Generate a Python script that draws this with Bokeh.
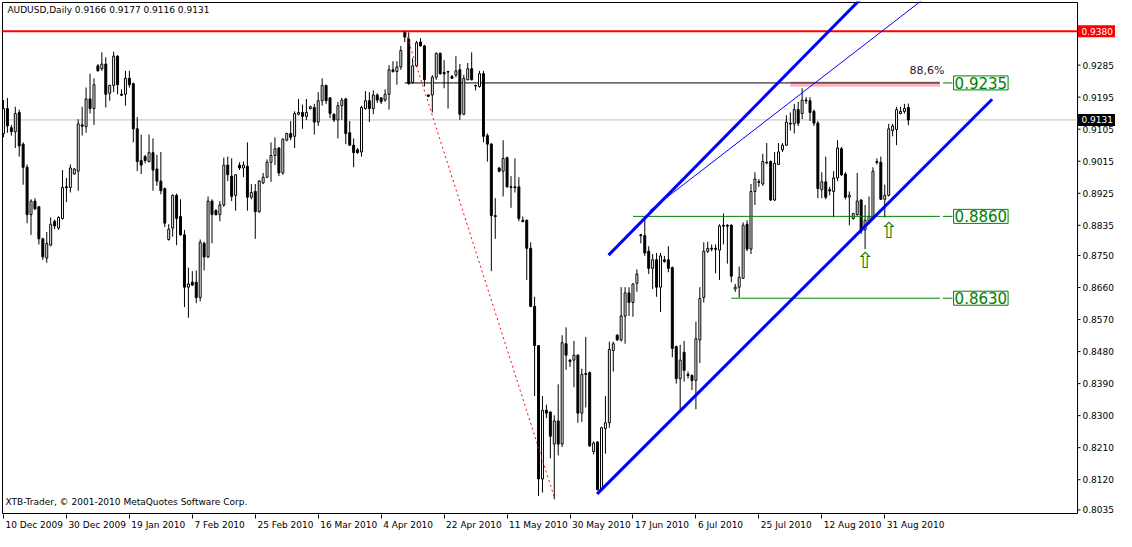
from bokeh.plotting import figure
from bokeh.models import Range1d, FixedTicker, Label
from bokeh.embed import file_html
from bokeh.resources import INLINE
from bokeh.core.properties import value

# ---------------- data (AUDUSD daily) ----------------
opens = [
    .9093, .9163, .9109, .9098, .9152, .9063, .8998, .8865, .8903, .8887,
    .8797, .8743, .8779, .8846, .8827, .8854, .8943, .8941, .8979, .8987,
    .9117, .9112, .9190, .9163, .9283, .9275, .9288, .9206, .9228, .9310,
    .9203, .9203, .9248, .9233, .9106, .9017, .9028, .9014, .9039, .8993,
    .8959, .8938, .8795, .8827, .8919, .8860, .8808, .8661, .8675, .8675,
    .8632, .8784, .8746, .8903, .8876, .8865, .8892, .9004, .8973, .8919,
    .9004, .8996, .9001, .8914, .8930, .8873, .8954, .8970, .9012, .9031,
    .9052, .8982, .9074, .9093, .9085, .9147, .9152, .9141, .9163, .9166,
    .9125, .9185, .9228, .9193, .9147, .9131, .9171, .9190, .9095, .9060,
    .9047, .9041, .9163, .9185, .9163, .9201, .9193, .9187, .9203, .9272,
    .9267, .9280, .9377, .9358, .9236, .9283, .9350, .9339, .9201, .9201,
    .9251, .9318, .9264, .9267, .9253, .9257, .9272, .9147, .9244, .9275,
    .9228, .9225, .9261, .9087, .9063, .8862, .8996, .8987, .9025, .8943,
    .8943, .8943, .8849, .8849, .8770, .8607, .8497, .8122, .8315, .8310,
    .8220, .8285, .8220, .8502, .8456, .8456, .8470, .8307, .8416, .8421,
    .8199, .8226, .8092, .8264, .8280, .8483, .8526, .8513, .8580, .8645,
    .8618, .8672, .8808, .8806, .8762, .8714, .8738, .8661, .8738, .8738,
    .8716, .8494, .8404, .8478, .8416, .8413, .8399, .8513, .8632, .8762,
    .8768, .8770, .8765, .8835, .8835, .8835, .8656, .8661, .8686, .8838,
    .8768, .8930, .8957, .8951, .9012, .9014, .8906, .9006, .9047, .9060,
    .9122, .9120, .9160, .9149, .9187, .9185, .9155, .9122, .8935, .8957,
    .8935, .8930, .8968, .9050, .8979, .8914, .8854, .8865, .8906, .8822,
    .8843, .8854, .9014, .9012, .8908, .8919, .9101, .9104, .9149, .9155,
    .9166,
]
highs = [
    .9187, .9193, .9117, .9168, .9160, .9068, .9006, .8908, .8911, .8889,
    .8800, .8816, .8857, .8851, .8860, .8990, .8968, .9006, .8996, .9133,
    .9168, .9222, .9261, .9248, .9288, .9321, .9307, .9230, .9323, .9313,
    .9217, .9269, .9269, .9236, .9139, .9090, .9033, .9090, .9079, .9033,
    .9041, .8941, .8838, .8922, .8924, .8908, .8822, .8716, .8706, .8708,
    .8795, .8789, .8916, .8908, .8881, .8903, .9025, .9028, .9023, .8979,
    .9012, .9014, .9068, .8951, .8951, .8962, .8982, .9020, .9068, .9082,
    .9055, .9079, .9095, .9128, .9155, .9190, .9174, .9190, .9171, .9176,
    .9209, .9248, .9230, .9195, .9149, .9182, .9193, .9193, .9128, .9079,
    .9052, .9171, .9212, .9209, .9214, .9206, .9195, .9217, .9285, .9296,
    .9296, .9339, .9380, .9377, .9304, .9353, .9361, .9342, .9203, .9257,
    .9321, .9321, .9299, .9269, .9257, .9310, .9288, .9258, .9291, .9321,
    .9230, .9269, .9269, .9093, .9066, .8911, .8998, .9074, .9028, .8973,
    .9023, .8970, .8860, .8851, .8787, .8634, .8497, .8355, .8331, .8312,
    .8301, .8388, .8526, .8548, .8459, .8510, .8472, .8432, .8521, .8424,
    .8228, .8228, .8269, .8355, .8508, .8508, .8529, .8661, .8661, .8661,
    .8672, .8711, .8811, .8860, .8776, .8754, .8757, .8757, .8749, .8776,
    .8719, .8497, .8499, .8510, .8424, .8416, .8564, .8661, .8787, .8789,
    .8781, .8781, .8838, .8868, .8838, .8838, .8670, .8719, .8843, .8849,
    .8951, .8984, .8965, .9036, .9066, .9017, .9041, .9066, .9066, .9144,
    .9152, .9176, .9182, .9220, .9195, .9195, .9160, .9128, .8984, .9028,
    .8943, .8987, .9074, .9055, .8984, .8930, .8870, .8982, .8908, .8892,
    .8916, .8998, .9023, .9028, .8949, .9120, .9120, .9168, .9168, .9176,
    .9177,
]
lows = [
    .9082, .9095, .9087, .9052, .9028, .8949, .8841, .8808, .8878, .8781,
    .8738, .8730, .8776, .8824, .8822, .8851, .8900, .8927, .8977, .8932,
    .9087, .9095, .9149, .9117, .9267, .9269, .9166, .9185, .9209, .9203,
    .9198, .9171, .9222, .9068, .8987, .8979, .9009, .9012, .8932, .8946,
    .8922, .8830, .8792, .8803, .8779, .8806, .8605, .8575, .8664, .8616,
    .8621, .8708, .8743, .8784, .8862, .8846, .8887, .8959, .8903, .8876,
    .8990, .8970, .8876, .8908, .8797, .8870, .8951, .8968, .8957, .9004,
    .8973, .8977, .9071, .9074, .9052, .9144, .9106, .9131, .9160, .9090,
    .9114, .9171, .9176, .9136, .9125, .9079, .9131, .9063, .9058, .8998,
    .9036, .9028, .9160, .9125, .9147, .9179, .9176, .9182, .9160, .9264,
    .9230, .9272, .9350, .9230, .9233, .9280, .9337, .9225, .9195, .9152,
    .9244, .9258, .9220, .9163, .9248, .9251, .9131, .9144, .9242, .9242,
    .9214, .9222, .9068, .9014, .8706, .8797, .8984, .8916, .8941, .8884,
    .8927, .8846, .8843, .8681, .8605, .8355, .8074, .8084, .8293, .8180,
    .8065, .8188, .8212, .8429, .8437, .8380, .8280, .8282, .8323, .8212,
    .8191, .8090, .8090, .8193, .8266, .8424, .8510, .8508, .8502, .8580,
    .8578, .8648, .8784, .8749, .8698, .8656, .8634, .8591, .8730, .8703,
    .8464, .8390, .8310, .8396, .8404, .8372, .8318, .8448, .8618, .8757,
    .8762, .8700, .8681, .8781, .8727, .8675, .8648, .8632, .8684, .8762,
    .8754, .8892, .8943, .8946, .9006, .8903, .8903, .9004, .9041, .9058,
    .9101, .9093, .9114, .9133, .9176, .9128, .9114, .8911, .8911, .8908,
    .8919, .8857, .8959, .8973, .8908, .8835, .8851, .8862, .8811, .8768,
    .8838, .8851, .9006, .8906, .8857, .8916, .9085, .9060, .9147, .9149,
    .9116,
]
closes = [
    .9163, .9114, .9098, .9149, .9058, .8998, .8865, .8903, .8881, .8797,
    .8746, .8784, .8838, .8833, .8857, .8941, .8941, .8996, .8993, .9120,
    .9114, .9190, .9163, .9230, .9269, .9288, .9203, .9228, .9310, .9230,
    .9201, .9248, .9230, .9106, .9014, .9004, .9017, .9039, .8990, .8959,
    .8932, .8841, .8824, .8919, .8854, .8808, .8661, .8670, .8667, .8632,
    .8787, .8746, .8903, .8865, .8865, .8892, .9004, .8977, .8916, .8977,
    .8996, .9004, .8914, .8927, .8873, .8959, .8970, .9012, .9031, .9050,
    .8982, .9077, .9093, .9082, .9149, .9152, .9141, .9152, .9168, .9125,
    .9185, .9228, .9185, .9149, .9131, .9171, .9187, .9093, .9060, .9039,
    .9039, .9166, .9185, .9163, .9201, .9187, .9182, .9203, .9272, .9267,
    .9280, .9326, .9364, .9233, .9283, .9348, .9339, .9244, .9198, .9251,
    .9318, .9261, .9261, .9266, .9248, .9269, .9147, .9248, .9275, .9244,
    .9227, .9261, .9085, .9063, .8862, .8860, .8987, .9023, .8943, .8942,
    .8941, .8854, .8846, .8770, .8607, .8497, .8122, .8315, .8307, .8242,
    .8285, .8220, .8505, .8470, .8453, .8470, .8307, .8416, .8418, .8215,
    .8223, .8092, .8266, .8280, .8486, .8502, .8513, .8580, .8645, .8618,
    .8670, .8698, .8806, .8757, .8714, .8738, .8661, .8749, .8733, .8714,
    .8489, .8404, .8456, .8427, .8413, .8399, .8516, .8629, .8762, .8770,
    .8770, .8768, .8833, .8833, .8833, .8692, .8661, .8689, .8835, .8768,
    .8930, .8965, .8956, .9014, .9011, .8906, .9009, .9041, .9060, .9125,
    .9120, .9160, .9122, .9187, .9185, .9152, .9122, .8938, .8957, .8914,
    .8932, .8968, .9052, .8977, .8914, .8919, .8868, .8903, .8819, .8849,
    .8860, .8987, .9012, .8908, .8919, .9106, .9114, .9160, .9155, .9163,
    .9131,
]

date_tick_bars = [0, 16, 32, 48, 64, 80, 96, 112, 128, 144, 160, 176, 192, 208, 224]
date_tick_labels = ["10 Dec 2009", "30 Dec 2009", "19 Jan 2010", "7 Feb 2010",
                    "25 Feb 2010", "16 Mar 2010", "4 Apr 2010", "22 Apr 2010",
                    "11 May 2010", "30 May 2010", "17 Jun 2010", "6 Jul 2010",
                    "25 Jul 2010", "12 Aug 2010", "31 Aug 2010"]
price_ticks = [0.9285, 0.9195, 0.9105, 0.9015, 0.8925, 0.8835, 0.8750, 0.8660,
               0.8570, 0.8480, 0.8390, 0.8300, 0.8210, 0.8120, 0.8035]

resistance = 0.9380          # red line (year high)
fib_level = 0.9235           # 88.6% retracement
support_levels = [0.8860, 0.8630]

# ---------------- layout helpers ----------------
FONT = "DejaVu Sans"
FRAME_W, FRAME_H = 1114, 513          # chart area + price-scale strip
CHART_W = 1076                        # width of the candle area in px
X0, XB = -0.25, 273.0                 # bar range of the candle area (XB = right border)
PX_PER_BAR = CHART_W / (XB - X0)
XR = XB + (FRAME_W - CHART_W) / PX_PER_BAR
Y0, Y1 = 0.8025, 0.9461               # price range of the candle area
PX_PER_PRICE = (FRAME_H - 2) / (Y1 - Y0)
ey = 1.0 / PX_PER_PRICE               # one pixel of price
ex = 1.0 / PX_PER_BAR                 # one pixel of bars

CW = {" ": .318, "D": .770, "e": .615, "c": .550, "J": .295, "a": .613, "n": .634,
      "F": .575, "b": .635, "M": .863, "r": .411, "A": .684, "p": .635, "y": .592,
      "u": .634, "l": .278, "g": .635}
def text_w(s, size=9):
    return sum(CW.get(ch, .636) for ch in s) * size

label_centres = [b + (text_w(l) / 2 + 2) * ex for b, l in zip(date_tick_bars, date_tick_labels)]

# ---------------- figure ----------------
p = figure(frame_width=FRAME_W, frame_height=FRAME_H, output_backend="svg", toolbar_location=None,
           x_range=Range1d(X0 - ex, XR), y_range=Range1d(Y0 - ey, Y1 + ey),
           y_axis_location=None, min_border_left=1, min_border_top=1,
           min_border_right=1, min_border_bottom=0)
p.background_fill_color = "white"
p.border_fill_color = "white"
p.outline_line_color = None
p.grid.visible = False

xa = p.xaxis[0]
xa.ticker = FixedTicker(ticks=label_centres, minor_ticks=date_tick_bars)
xa.major_label_overrides = {c: l for c, l in zip(label_centres, date_tick_labels)}
xa.axis_line_color = None
xa.major_tick_line_color = None
xa.major_tick_in = 0
xa.major_tick_out = 3
xa.minor_tick_in = 0
xa.minor_tick_out = 4
xa.minor_tick_line_color = "black"
xa.major_label_standoff = 1
xa.major_label_text_font = FONT
xa.major_label_text_font_size = "9px"
xa.major_label_text_color = "black"

n = len(closes)
idx = list(range(n))

# chart border
p.quad(left=[X0], right=[XB], bottom=[Y0], top=[Y1], fill_color=None, line_color="black", line_width=1)

# last-price line and resistance line
p.segment(x0=[X0], y0=[closes[-1]], x1=[XB], y1=[closes[-1]], line_color="#C0C0C0", line_width=1)
p.segment(x0=[X0], y0=[resistance], x1=[XB], y1=[resistance], line_color="#FF0000", line_width=2)

# 88.6% zone
p.quad(left=[200], right=[238], bottom=[fib_level - 0.0011], top=[fib_level + 0.0004],
       fill_color="#FFB6C1", line_color=None)
p.segment(x0=[102], y0=[fib_level], x1=[238], y1=[fib_level], line_color="black", line_width=1)

# candles
p.segment(x0=idx, y0=lows, x1=idx, y1=highs, line_color="black", line_width=1)
up = [i for i in idx if closes[i] >= opens[i]]
dn = [i for i in idx if closes[i] < opens[i]]
p.vbar(x=up, width=0.5, bottom=[opens[i] for i in up], top=[closes[i] for i in up],
       fill_color="white", line_color="black", line_width=1)
p.vbar(x=dn, width=0.5, bottom=[closes[i] for i in dn], top=[opens[i] for i in dn],
       fill_color="black", line_color="black", line_width=1)
doji = [i for i in idx if abs(closes[i] - opens[i]) < 0.0004]
p.segment(x0=[i - 0.3 for i in doji], y0=[closes[i] for i in doji],
          x1=[i + 0.3 for i in doji], y1=[closes[i] for i in doji],
          line_color="black", line_width=1)

# support / resistance levels
p.segment(x0=[160, 185], y0=support_levels, x1=[238, 238], y1=support_levels,
          line_color="#008000", line_width=1)
lv_all = [fib_level] + support_levels
p.segment(x0=[238.8] * 3, y0=lv_all, x1=[241.2] * 3, y1=lv_all, line_color="#008000", line_width=1)

# channel
p.line([150.9, 251.3], [0.8080, 0.9189], line_color="#0000FF", line_width=3)
p.line([153.8, 220.0], [0.8751, 0.9495], line_color="#0000FF", line_width=3)
p.line([164.25, 234.0], [0.8876, 0.9472], line_color="#0000FF", line_width=1)

# red dotted trend line
p.line([102.25, 140.0], [0.9377, 0.8071], line_color="#FF0000", line_width=1, line_dash="2 3")

# arrows and texts inside the chart
p.text(x=[219, 225], y=[0.8735, 0.8819], text=["\u21e7", "\u21e7"], text_color="#008000",
       text_font=value(FONT), text_font_size="22px", text_align="center", text_baseline="middle")
p.text(x=[239.2], y=[0.9269], text=["88,6%"], text_color="#222222", text_font=value(FONT),
       text_font_size="11px", text_align="right", text_baseline="middle")
for lv in lv_all:
    p.add_layout(Label(x=241.5, y=lv, text=f"{lv:.4f}", text_font=FONT, text_font_size="15px",
                       text_color="#008000", text_align="left", text_baseline="middle",
                       border_line_color="#008000", border_line_width=1,
                       background_fill_color="white", padding=1))

# ---------------- price scale strip on the right ----------------
p.segment(x0=[XB] * len(price_ticks), y0=price_ticks, x1=[XB + 3 * ex] * len(price_ticks),
          y1=price_ticks, line_color="black", line_width=1)
p.text(x=[XB + 5 * ex] * len(price_ticks), y=price_ticks, text=[f"{t:.4f}" for t in price_ticks],
       text_color="black", text_font=value(FONT), text_font_size="9px",
       text_align="left", text_baseline="middle")
tag_prices = [resistance, closes[-1]]
p.quad(left=[XB + 0.5 * ex] * 2, right=[XR - 0.5 * ex] * 2,
       bottom=[t - 6 * ey for t in tag_prices], top=[t + 6 * ey for t in tag_prices],
       fill_color=["#FF0000", "black"], line_color=None)
p.text(x=[XB + 4 * ex] * 2, y=tag_prices, text=[f"{t:.4f}" for t in tag_prices],
       text_color="white", text_font=value(FONT), text_font_size="9px",
       text_align="left", text_baseline="middle")

# header and footer texts
header = f"AUDUSD,Daily  {opens[-1]:.4f} {highs[-1]:.4f} {lows[-1]:.4f} {closes[-1]:.4f}"
p.add_layout(Label(x=1.0, y=0.9440, text=header, text_font=FONT, text_font_size="9px",
                   text_color="black", text_baseline="middle"))
p.add_layout(Label(x=0.5, y=0.8056, text="XTB-Trader, \u00a9 2001-2010 MetaQuotes Software Corp.",
                   text_font=FONT, text_font_size="9px", text_color="black", text_baseline="middle"))

open("out.html", "w").write(file_html(p, INLINE))
